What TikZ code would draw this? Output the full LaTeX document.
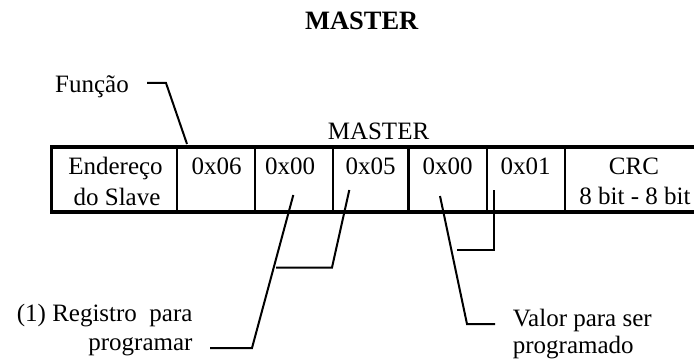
\documentclass[tikz,border=0pt]{standalone}
\usepackage{fontspec}
\setmainfont{Liberation Serif}
\begin{document}
\begin{tikzpicture}[x=1pt,y=-1pt,
  txt/.style={inner sep=0pt,font=\fontsize{25}{30}\selectfont},
  ttl/.style={inner sep=0pt,font=\bfseries\fontsize{26.5}{30}\selectfont},
  border/.style={line width=3.5pt},
  divider/.style={line width=2.4pt},
  conn/.style={line width=2pt}]
\useasboundingbox (0,0) rectangle (694,361);
\clip (0,0) rectangle (694,361);

% title
\node[ttl,anchor=base] (title) at (361.7,29.3) {MASTER};
\node[txt,anchor=base] (master) at (378.5,139.3) {MASTER};

% table
\draw[border] (51.7,147) rectangle (705,212);
\foreach \xx in {177,255,333,408.5,487,565}{
  \draw[divider] (\xx,147) -- (\xx,212);
}

% cell texts
\node[txt,anchor=base] (end1) at (115.5,174) {Endereço};
\node[txt,anchor=base] (end2) at (117,205) {do Slave};
\node[txt,anchor=base] (c06) at (216.5,174) {0x06};
\node[txt,anchor=base] (c00a) at (290,174) {0x00};
\node[txt,anchor=base] (c05) at (370.5,174) {0x05};
\node[txt,anchor=base] (c00b) at (447.5,174) {0x00};
\node[txt,anchor=base] (c01) at (525.5,174) {0x01};
\node[txt,anchor=base] (crc1) at (634,174) {CRC};
\node[txt,anchor=base] (crc2) at (635,204) {8 bit - 8 bit};

% labels
\node[txt,anchor=base west] (funcao) at (55,92.3) {Função};
\node[txt,anchor=base east] (reg1) at (192.7,321.7) {(1) Registro\ \ para};
\node[txt,anchor=base east] (reg2) at (192.7,350) {programar};
\node[txt,anchor=base west] (val1) at (512.7,326) {Valor para ser};
\node[txt,anchor=base west] (val2) at (512.7,353) {programado};

% connector points
\coordinate (fA) at (147,83);
\coordinate (fB) at (166,83);
\coordinate (fC) at (187,144);

\coordinate (rA) at (210,348);
\coordinate (rB) at (252,348);
\coordinate (rC) at (293.3,195);

\coordinate (pA) at (276,267.5);
\coordinate (pB) at (332,267.5);
\coordinate (pC) at (349.3,190);

\coordinate (vA) at (495,324);
\coordinate (vB) at (467,324);
\coordinate (vC) at (440,196);

\coordinate (wA) at (457,250);
\coordinate (wB) at (494,250);
\coordinate (wC) at (494,190);

\draw[conn] (fA) -- (fB) -- (fC);
\draw[conn] (rA) -- (rB) -- (rC);
\draw[conn] (pA) -- (pB) -- (pC);
\draw[conn] (vA) -- (vB) -- (vC);
\draw[conn] (wA) -- (wB) -- (wC);
\end{tikzpicture}
\end{document}
